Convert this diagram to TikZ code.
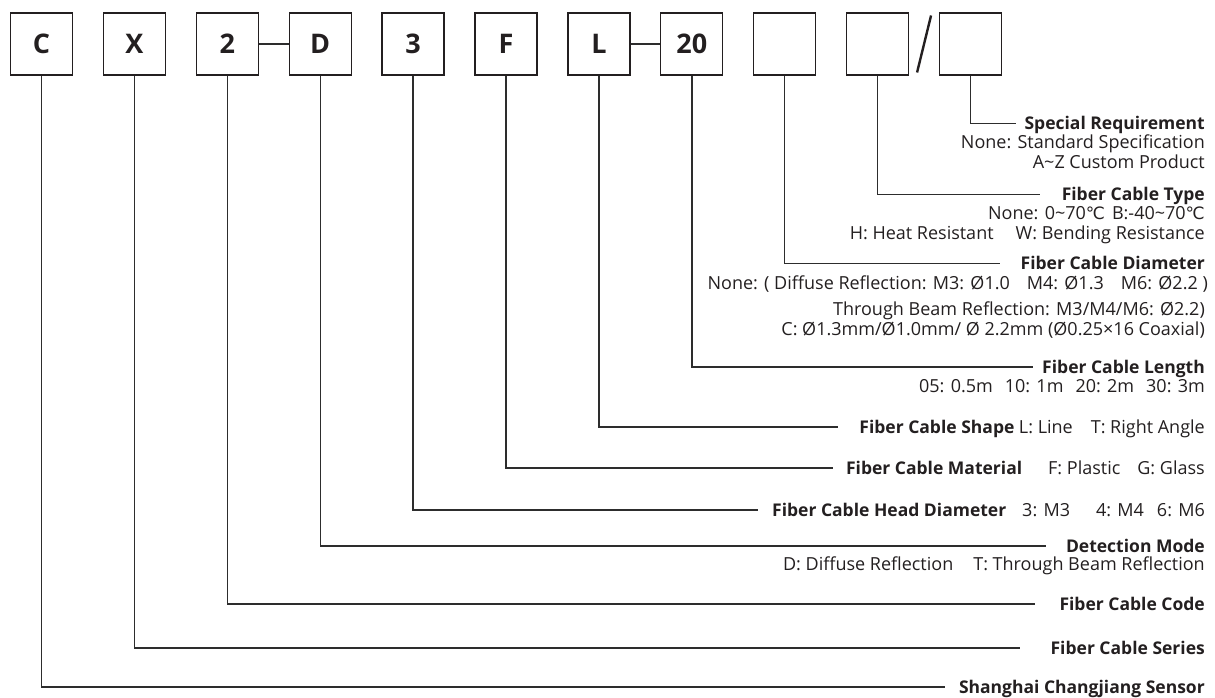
\documentclass[tikz,border=0pt]{standalone}
\usepackage{fontspec}
\setmainfont{Open Sans}
\newfontfamily\degfont{DejaVu Sans}
\usetikzlibrary{positioning,calc}
\definecolor{inkblack}{RGB}{35,31,32}
\definecolor{leadgray}{RGB}{45,45,45}
\newcommand{\degc}{{\degfont\fontsize{17}{17}\selectfont ℃}}
\newcommand{\tld}{\textasciitilde}
\newcommand{\leader}[3]{%
  \draw[lead] (#1.south) |- ([xshift=-#3]#2.west);}
\tikzset{
  codebox/.style={draw=inkblack, line width=1.3pt, minimum size=62pt, inner sep=0pt,
    font=\fontsize{27}{27}\selectfont\bfseries, text=inkblack},
  lead/.style={leadgray, line width=1.4pt},
  slashln/.style={inkblack, line width=2.4pt},
  ttl/.style={anchor=east, inner sep=0pt, text height=12pt, text depth=0pt,
    font=\fontsize{17.5}{20}\selectfont\bfseries, text=inkblack},
  sub/.style={anchor=east, inner sep=0pt, text height=12pt, text depth=0pt,
    font=\fontsize{18}{20}\selectfont, text=inkblack},
}

\begin{document}
\begin{tikzpicture}[x=1pt, y=-1pt]
  \useasboundingbox (0,0) rectangle (1215,697);
  \node[codebox] (brand) at (41.5,44) {C};
  \node[codebox, right=29.6pt of brand] (series) {X};
  \node[codebox, right=29.6pt of series] (code) {2};
  \node[codebox, right=29.6pt of code] (mode) {D};
  \node[codebox, right=29.6pt of mode] (head) {3};
  \node[codebox, right=29.6pt of head] (mat) {F};
  \node[codebox, right=29.6pt of mat] (shape) {L};
  \node[codebox, right=29.6pt of shape] (len) {20};
  \node[codebox, right=29.6pt of len] (dia) {};
  \node[codebox, right=29.6pt of dia] (kind) {};
  \node[codebox, right=29.6pt of kind] (spec) {};
  \draw[lead] (code) -- (mode);
  \draw[lead] (shape) -- (len);
  \draw[slashln] ($(kind.east)!0.5!(spec.west)+(7,-28.5)$) -- ($(kind.east)!0.5!(spec.west)+(-7,28.5)$);

  \node[ttl] (tspec) at (1205,123.5) {Special Requirement};
  \node[sub] (spec1) at (1205,142.5) {None: Standard Specification};
  \node[sub] (spec2) at (1205,162) {A\tld Z Custom Product};
  \node[ttl] (tkind) at (1205,194.5) {Fiber Cable Type};
  \node[sub] (kind1) at (1205,213.5) {None: 0\tld 70\degc\hspace{7pt}B:-40\tld 70\degc};
  \node[sub] (kind2) at (1205,233) {H: Heat Resistant\hspace{22pt}W: Bending Resistance};
  \node[ttl] (tdia) at (1205,263.5) {Fiber Cable Diameter};
  \node[sub] (dia1) at (1208,283) {None: ( Diffuse Reflection: M3: Ø1.0\hspace{17pt}M4: Ø1.3\hspace{17pt}M6: Ø2.2 )};
  \node[sub] (dia2) at (1205,309) {Through Beam Reflection: M3/M4/M6: Ø2.2)};
  \node[sub] (dia3) at (1205,329) {C: Ø1.3mm/Ø1.0mm/ Ø 2.2mm (Ø0.25×16 Coaxial)};
  \node[ttl] (tlen) at (1205,367) {Fiber Cable Length};
  \node[sub] (len1) at (1205,386) {05: 0.5m\hspace{12pt}10: 1m\hspace{12pt}20: 2m\hspace{12pt}30: 3m};
  \node[ttl] (tshape) at (1205,427) {Fiber Cable Shape {\mdseries\fontsize{18}{20}\selectfont L: Line\hspace{18pt}T: Right Angle}};
  \node[ttl] (tmat) at (1205,468) {Fiber Cable Material\hspace{26pt}{\mdseries\fontsize{18}{20}\selectfont F: Plastic\hspace{17pt}G: Glass}};
  \node[ttl] (thead) at (1205,510) {Fiber Cable Head Diameter\hspace{16pt}{\mdseries\fontsize{18}{20}\selectfont 3: M3\hspace{26pt}4: M4\hspace{13pt}6: M6}};
  \node[ttl] (tmode) at (1205,546) {Detection Mode};
  \node[sub] (mode1) at (1205,564.5) {D: Diffuse Reflection\hspace{20pt}T: Through Beam Reflection};
  \node[ttl] (tcode) at (1205,604) {Fiber Cable Code};
  \node[ttl] (tseries) at (1205,648) {Fiber Cable Series};
  \node[ttl] (tbrand) at (1205,687) {Shanghai Changjiang Sensor};

  \leader{spec}{tspec}{8pt}
  \leader{kind}{tkind}{22pt}
  \leader{dia}{tdia}{20pt}
  \leader{len}{tlen}{9pt}
  \leader{shape}{tshape}{21pt}
  \leader{mat}{tmat}{13pt}
  \leader{head}{thead}{14pt}
  \leader{mode}{tmode}{20pt}
  \leader{code}{tcode}{24pt}
  \leader{series}{tseries}{30pt}
  \leader{brand}{tbrand}{14pt}
\end{tikzpicture}
\end{document}
